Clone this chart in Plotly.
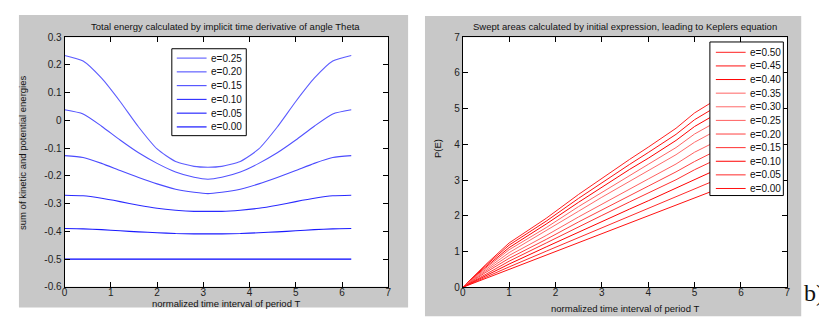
import plotly.graph_objects as go

W, H = 827, 322

# ---------------- data: left panel (total energy) ----------------
t_energy = [0, 0.4, 0.8, 1.2, 1.6, 2.0, 2.4, 2.8, 3.1, 3.4, 3.8, 4.2, 4.6, 5.0, 5.4, 5.8, 6.2]
energy_labels = ["e=0.25", "e=0.20", "e=0.15", "e=0.10", "e=0.05", "e=0.00"]
energy_e025 = [0.234, 0.214, 0.152, 0.068, -0.024, -0.103, -0.148, -0.166, -0.169,
               -0.166, -0.148, -0.103, -0.024, 0.068, 0.152, 0.214, 0.234]
energy_e020 = [0.038, 0.023, -0.021, -0.071, -0.117, -0.155, -0.186, -0.205, -0.212,
               -0.205, -0.186, -0.155, -0.117, -0.071, -0.021, 0.023, 0.038]
energy_e015 = [-0.127, -0.134, -0.155, -0.181, -0.206, -0.229, -0.248, -0.259, -0.264,
               -0.259, -0.248, -0.229, -0.206, -0.181, -0.155, -0.134, -0.127]
energy_e010 = [-0.270, -0.272, -0.281, -0.293, -0.306, -0.317, -0.324, -0.328, -0.328,
               -0.328, -0.324, -0.317, -0.306, -0.293, -0.281, -0.272, -0.270]
energy_e005 = [-0.390, -0.391, -0.394, -0.398, -0.402, -0.405, -0.408, -0.409, -0.409,
               -0.409, -0.408, -0.405, -0.402, -0.398, -0.394, -0.391, -0.390]
energy_e000 = [-0.5] * 17
energy_series = [energy_e025, energy_e020, energy_e015, energy_e010, energy_e005, energy_e000]
energy_yticks = [-0.6, -0.5, -0.4, -0.3, -0.2, -0.1, 0, 0.1, 0.2, 0.3]
energy_yticktext = ["-0.6", "-0.5", "-0.4", "-0.3", "-0.2", "-0.1", "0", "0.1", "0.2", "0.3"]
x_ticks = [0, 1, 2, 3, 4, 5, 6, 7]

# ---------------- data: right panel (swept areas) ----------------
t_area = [0, 0.5, 1.0, 1.8, 2.5, 3.0, 3.6, 4.0, 4.6, 5.0, 5.4, 6.0, 6.28]
area_labels = ["e=0.50", "e=0.45", "e=0.40", "e=0.35", "e=0.30", "e=0.25",
               "e=0.20", "e=0.15", "e=0.10", "e=0.05", "e=0.00"]
area_e050 = [0, 0.64, 1.24, 1.93, 2.60, 3.05, 3.58, 3.92, 4.45, 4.88, 5.20, 5.75, 6.00]
area_e045 = [0, 0.61, 1.18, 1.85, 2.49, 2.93, 3.44, 3.77, 4.28, 4.69, 5.00, 5.53, 5.77]
area_e040 = [0, 0.57, 1.11, 1.77, 2.38, 2.80, 3.30, 3.61, 4.11, 4.50, 4.80, 5.31, 5.54]
area_e035 = [0, 0.54, 1.05, 1.67, 2.26, 2.66, 3.14, 3.44, 3.91, 4.29, 4.58, 5.06, 5.29]
area_e030 = [0, 0.50, 0.97, 1.58, 2.13, 2.52, 2.97, 3.26, 3.71, 4.06, 4.34, 4.80, 5.01]
area_e025 = [0, 0.46, 0.89, 1.45, 1.97, 2.33, 2.75, 3.03, 3.45, 3.78, 4.04, 4.47, 4.67]
area_e020 = [0, 0.42, 0.81, 1.34, 1.83, 2.17, 2.57, 2.83, 3.23, 3.52, 3.78, 4.18, 4.37]
area_e015 = [0, 0.37, 0.73, 1.24, 1.70, 2.01, 2.39, 2.63, 3.01, 3.29, 3.53, 3.91, 4.08]
area_e010 = [0, 0.33, 0.65, 1.13, 1.55, 1.84, 2.19, 2.42, 2.77, 3.02, 3.25, 3.61, 3.77]
area_e005 = [0, 0.29, 0.57, 1.01, 1.39, 1.67, 1.99, 2.21, 2.53, 2.76, 2.97, 3.29, 3.45]
area_e000 = [0, 0.25, 0.50, 0.90, 1.25, 1.50, 1.80, 2.00, 2.30, 2.50, 2.70, 3.00, 3.14]
area_series = [area_e050, area_e045, area_e040, area_e035, area_e030, area_e025,
               area_e020, area_e015, area_e010, area_e005, area_e000]
area_yticks = [0, 1, 2, 3, 4, 5, 6, 7]

# ---------------- styles ----------------
blue_colors = ["#5c5cff", "#5252ff", "#4a4aff", "#2a2aff", "#1a1aff", "#0000ff"]
red_colors = ["#ff2020", "#ff1010", "#ff0000", "#ff6464", "#ff6a6a", "#ff6060",
              "#ff4040", "#ff3030", "#ff0000", "#ff2a2a", "#ff1010"]
FONT = "Liberation Sans, Arial, sans-serif"

fig = go.Figure()
for lab, ys, c in zip(energy_labels, energy_series, blue_colors):
    fig.add_trace(go.Scatter(x=t_energy, y=ys, mode="lines", name=lab,
                             line=dict(color=c, width=1.1, shape="spline", smoothing=0.6),
                             xaxis="x", yaxis="y", showlegend=False))
for lab, ys, c in zip(area_labels, area_series, red_colors):
    fig.add_trace(go.Scatter(x=t_area, y=ys, mode="lines", name=lab,
                             line=dict(color=c, width=1),
                             xaxis="x2", yaxis="y2", showlegend=False))

def px(x):
    return x / W

def py(y):
    return 1 - y / H

axis_common = dict(showline=True, linecolor="black", linewidth=1, mirror="ticks",
                   ticks="inside", ticklen=5, tickcolor="black", showgrid=False,
                   zeroline=False, tickfont=dict(family=FONT, size=10, color="#222"))

fig.update_layout(
    width=W, height=H, margin=dict(l=0, r=0, t=0, b=0),
    paper_bgcolor="white", plot_bgcolor="white", showlegend=False,
    xaxis=dict(domain=[px(54), px(380)], range=[0, 7], tickvals=x_ticks, anchor="y",
               ticklabelstandoff=-4, **axis_common),
    yaxis=dict(domain=[py(283.5), py(25)], range=[-0.6, 0.3], tickvals=energy_yticks,
               ticktext=energy_yticktext, anchor="x", **axis_common),
    xaxis2=dict(domain=[px(455), px(782)], range=[0, 7], tickvals=x_ticks, anchor="y2",
                ticklabelstandoff=-4, **axis_common),
    yaxis2=dict(domain=[py(284), py(25)], range=[0, 7], tickvals=area_yticks, anchor="x2", **axis_common),
)

shapes = [
    dict(type="rect", xref="paper", yref="paper", x0=px(8), x1=px(400), y0=py(305), y1=py(2),
         fillcolor="#c8c8c8", line=dict(width=0), layer="below"),
    dict(type="rect", xref="paper", yref="paper", x0=px(417), x1=px(796), y0=py(314), y1=py(3),
         fillcolor="#c8c8c8", line=dict(width=0), layer="below"),
    dict(type="rect", xref="paper", yref="paper", x0=px(54), x1=px(380), y0=py(283.5), y1=py(25),
         fillcolor="white", line=dict(width=0), layer="below"),
    dict(type="rect", xref="paper", yref="paper", x0=px(455), x1=px(782), y0=py(284), y1=py(25),
         fillcolor="white", line=dict(width=0), layer="below"),
    # legend boxes
    dict(type="rect", xref="paper", yref="paper", x0=px(162), x1=px(237), y0=py(127), y1=py(37),
         fillcolor="white", line=dict(color="black", width=1), layer="above"),
    dict(type="rect", xref="paper", yref="paper", x0=px(704), x1=px(778), y0=py(189), y1=py(30),
         fillcolor="white", line=dict(color="black", width=1), layer="above"),
]
annotations = []
for i, (lab, c) in enumerate(zip(energy_labels, blue_colors)):
    yy = 46.7 + i * 14.25
    shapes.append(dict(type="line", xref="paper", yref="paper", x0=px(167), x1=px(197),
                       y0=py(yy), y1=py(yy), line=dict(color=c, width=1.1), layer="above"))
    annotations.append(dict(text=lab, xref="paper", yref="paper", x=px(199), y=py(yy),
                            xanchor="left", yanchor="middle", showarrow=False,
                            font=dict(family=FONT, size=10, color="#111")))
for i, (lab, c) in enumerate(zip(area_labels, red_colors)):
    yy = 40.7 + i * 14.1
    shapes.append(dict(type="line", xref="paper", yref="paper", x0=px(710), x1=px(740),
                       y0=py(yy), y1=py(yy), line=dict(color=c, width=1), layer="above"))
    annotations.append(dict(text=lab, xref="paper", yref="paper", x=px(742), y=py(yy),
                            xanchor="left", yanchor="middle", showarrow=False,
                            font=dict(family=FONT, size=10, color="#111")))

def txt(text, x, y, size=9.5, angle=0, family=FONT, xanchor="center"):
    annotations.append(dict(text=text, xref="paper", yref="paper", x=px(x), y=py(y),
                            xanchor=xanchor, yanchor="middle", showarrow=False, textangle=angle,
                            font=dict(family=family, size=size, color="#111")))

txt("Total energy calculated by implicit time derivative of angle Theta", 216, 14)
txt("Swept areas calculated by initial expression, leading to Keplers equation", 618, 14)
txt("normalized time interval of period T", 217, 301)
txt("normalized time interval of period T", 618, 306)
txt("sum of kinetic and potential energies", 11, 145, angle=-90)
txt("P(E)", 429, 140, angle=-90)
txt("b)", 821, 290, size=24, family="Liberation Serif, Times New Roman, serif", xanchor="right")

fig.update_layout(shapes=shapes, annotations=annotations)
fig.write_html("out.html")
